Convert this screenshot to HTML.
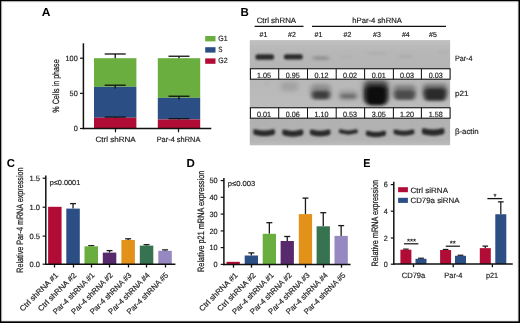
<!DOCTYPE html>
<html><head><meta charset="utf-8"><title>Figure</title>
<style>
html,body{margin:0;padding:0;background:#fff;}
body{width:520px;height:323px;overflow:hidden;position:relative;font-family:"Liberation Sans",sans-serif;}
svg{position:absolute;left:0;top:0;will-change:transform;}
svg text{font-family:"Liberation Sans",sans-serif;text-rendering:geometricPrecision;}
</style></head><body>
<svg width="520" height="323" viewBox="0 0 520 323">
<text x="41.7" y="16.3" font-size="11.5" text-anchor="start" font-weight="bold" fill="#000" textLength="8.7" lengthAdjust="spacingAndGlyphs" >A</text>
<text x="240.4" y="16.3" font-size="11.5" text-anchor="start" font-weight="bold" fill="#000" >B</text>
<text x="6.7" y="167.35" font-size="11.5" text-anchor="start" font-weight="bold" fill="#000" textLength="8.2" lengthAdjust="spacingAndGlyphs" >C</text>
<text x="186.5" y="167.35" font-size="11.5" text-anchor="start" font-weight="bold" fill="#000" >D</text>
<text x="363.2" y="167.35" font-size="11.5" text-anchor="start" font-weight="bold" fill="#000" textLength="7.2" lengthAdjust="spacingAndGlyphs" >E</text>
<rect x="94.00" y="58.20" width="42.40" height="28.61" fill="#69ae3f" />
<rect x="94.00" y="86.81" width="42.40" height="30.93" fill="#2b4e85" />
<rect x="94.00" y="117.74" width="42.40" height="10.76" fill="#b10c35" />
<line x1="115.2" y1="58.2" x2="115.2" y2="53.982" stroke="#111" stroke-width="1.3"/>
<line x1="104.7" y1="53.982" x2="125.7" y2="53.982" stroke="#111" stroke-width="1.3"/>
<line x1="115.2" y1="88.4121" x2="115.2" y2="85.1952" stroke="#111" stroke-width="1.3"/>
<line x1="104.7" y1="85.1952" x2="125.7" y2="85.1952" stroke="#111" stroke-width="1.3"/>
<line x1="115.2" y1="117.7441" x2="115.2" y2="117.0411" stroke="#111" stroke-width="1.2"/>
<line x1="104.7" y1="117.0411" x2="125.7" y2="117.0411" stroke="#111" stroke-width="1.2"/>
<rect x="157.80" y="58.20" width="42.40" height="39.65" fill="#69ae3f" />
<rect x="157.80" y="97.85" width="42.40" height="21.58" fill="#2b4e85" />
<rect x="157.80" y="119.43" width="42.40" height="9.07" fill="#b10c35" />
<line x1="179.0" y1="58.2" x2="179.0" y2="56.2316" stroke="#111" stroke-width="1.3"/>
<line x1="168.5" y1="56.2316" x2="189.5" y2="56.2316" stroke="#111" stroke-width="1.3"/>
<line x1="179.0" y1="99.44919999999999" x2="179.0" y2="96.23230000000001" stroke="#111" stroke-width="1.3"/>
<line x1="168.5" y1="96.23230000000001" x2="189.5" y2="96.23230000000001" stroke="#111" stroke-width="1.3"/>
<line x1="179.0" y1="119.4313" x2="179.0" y2="118.658" stroke="#111" stroke-width="1.2"/>
<line x1="168.5" y1="118.658" x2="189.5" y2="118.658" stroke="#111" stroke-width="1.2"/>
<line x1="83.4" y1="43.3" x2="83.4" y2="129.2" stroke="#111" stroke-width="1.5"/>
<line x1="82.7" y1="128.5" x2="211.3" y2="128.5" stroke="#111" stroke-width="1.5"/>
<line x1="115.5" y1="128.5" x2="115.5" y2="132.3" stroke="#111" stroke-width="1.2"/>
<line x1="178.5" y1="128.5" x2="178.5" y2="132.3" stroke="#111" stroke-width="1.2"/>
<line x1="80" y1="128.5" x2="83.4" y2="128.5" stroke="#111" stroke-width="1.2"/>
<text x="77.8" y="131.2" font-size="7.7" text-anchor="end" font-weight="normal" fill="#222" textLength="4.1" lengthAdjust="spacingAndGlyphs"  stroke="#222" stroke-width="0.18">0</text>
<line x1="80" y1="93.35" x2="83.4" y2="93.35" stroke="#111" stroke-width="1.2"/>
<text x="77.8" y="96.05" font-size="7.7" text-anchor="end" font-weight="normal" fill="#222" textLength="8.2" lengthAdjust="spacingAndGlyphs"  stroke="#222" stroke-width="0.18">50</text>
<line x1="80" y1="58.2" x2="83.4" y2="58.2" stroke="#111" stroke-width="1.2"/>
<text x="77.8" y="60.900000000000006" font-size="7.7" text-anchor="end" font-weight="normal" fill="#222" textLength="12.299999999999999" lengthAdjust="spacingAndGlyphs"  stroke="#222" stroke-width="0.18">100</text>
<text x="59.0" y="86.0" font-size="9.2" text-anchor="middle" font-weight="normal" fill="#222" textLength="53.3" lengthAdjust="spacingAndGlyphs" transform="rotate(-90 59.0 86.0)" stroke="#222" stroke-width="0.25">% Cells in phase</text>
<text x="115.6" y="141.6" font-size="7.7" text-anchor="middle" font-weight="normal" fill="#222" textLength="40.3" lengthAdjust="spacingAndGlyphs"  stroke="#222" stroke-width="0.18">Ctrl shRNA</text>
<text x="178.5" y="141.6" font-size="7.7" text-anchor="middle" font-weight="normal" fill="#222" textLength="43.7" lengthAdjust="spacingAndGlyphs"  stroke="#222" stroke-width="0.18">Par-4 shRNA</text>
<rect x="205.20" y="36.00" width="10.30" height="5.40" fill="#69ae3f" />
<text x="218.3" y="41.0" font-size="7.7" text-anchor="start" font-weight="normal" fill="#222" textLength="9.3" lengthAdjust="spacingAndGlyphs"  stroke="#222" stroke-width="0.18">G1</text>
<rect x="205.20" y="47.20" width="10.30" height="5.40" fill="#2b4e85" />
<text x="218.3" y="52.2" font-size="7.7" text-anchor="start" font-weight="normal" fill="#222" textLength="4.2" lengthAdjust="spacingAndGlyphs"  stroke="#222" stroke-width="0.18">S</text>
<rect x="205.20" y="58.40" width="10.30" height="5.40" fill="#b10c35" />
<text x="218.3" y="63.4" font-size="7.7" text-anchor="start" font-weight="normal" fill="#222" textLength="9.3" lengthAdjust="spacingAndGlyphs"  stroke="#222" stroke-width="0.18">G2</text>
<defs>
<filter id="b1" x="-30%" y="-80%" width="160%" height="260%"><feGaussianBlur stdDeviation="1.0 0.8"/></filter>
<filter id="b2" x="-40%" y="-80%" width="180%" height="260%"><feGaussianBlur stdDeviation="2.1 1.7"/></filter>
<filter id="b3" x="-50%" y="-100%" width="200%" height="300%"><feGaussianBlur stdDeviation="2.6 2.2"/></filter>
<linearGradient id="g1" x1="0" y1="0" x2="0" y2="1"><stop offset="0" stop-color="#c0c0c0"/><stop offset="0.35" stop-color="#b7b7b7"/><stop offset="1" stop-color="#b5b5b5"/></linearGradient>
<linearGradient id="g2" x1="0" y1="0" x2="0" y2="1"><stop offset="0" stop-color="#b8b8b8"/><stop offset="1" stop-color="#bcbcbc"/></linearGradient>
<linearGradient id="g3" x1="0" y1="0" x2="0" y2="1"><stop offset="0" stop-color="#b1b1b1"/><stop offset="0.8" stop-color="#b3b3b3"/><stop offset="1" stop-color="#bdbdbd"/></linearGradient>
<clipPath id="cb"><rect x="249.8" y="40.1" width="200.3" height="105.2"/></clipPath>
</defs>
<rect x="249.80" y="40.10" width="200.30" height="30.00" fill="url(#g1)" />
<rect x="249.80" y="79.00" width="200.30" height="30.00" fill="url(#g2)" />
<rect x="249.80" y="117.50" width="200.30" height="27.80" fill="url(#g3)" />
<g clip-path="url(#cb)">
<rect x="255.4" y="54.2" width="18.60" height="5.60" rx="2.5" fill="#2b2b2b" filter="url(#b1)"/>
<rect x="283.8" y="54.2" width="19.00" height="5.40" rx="2.5" fill="#2b2b2b" filter="url(#b1)"/>
<rect x="312.5" y="56.3" width="16.50" height="3.70" rx="2.5" fill="#909090" filter="url(#b2)"/>
<rect x="368" y="52.5" width="18.00" height="2.00" rx="1" fill="#aaaaaa" filter="url(#b2)"/>
<rect x="399" y="55.5" width="13.00" height="2.00" rx="1" fill="#a6a6a6" filter="url(#b2)"/>
<rect x="440" y="51" width="6.00" height="2.00" rx="1" fill="#aaaaaa" filter="url(#b2)"/>
<rect x="341" y="56" width="11.00" height="2.00" rx="1" fill="#adadad" filter="url(#b2)"/>
<rect x="281" y="82" width="17.00" height="9.00" rx="3" fill="#a2a2a2" filter="url(#b3)"/>
<rect x="265" y="82.5" width="3.00" height="2.50" rx="1" fill="#a4a4a4" filter="url(#b2)"/>
<rect x="311" y="84.5" width="19.50" height="12.50" rx="3" fill="#8a8a8a" filter="url(#b3)"/>
<rect x="312.2" y="91.0" width="17.40" height="8.20" rx="3" fill="#3e3e3e" filter="url(#b2)"/>
<rect x="339" y="90" width="18.50" height="10.00" rx="3" fill="#9c9c9c" filter="url(#b3)"/>
<rect x="340.5" y="94" width="15.50" height="4.40" rx="2" fill="#6c6c6c" filter="url(#b2)"/>
<rect x="363.5" y="80.5" width="25.00" height="21.50" rx="5" fill="#4a4a4a" filter="url(#b3)"/>
<rect x="365.5" y="86" width="21.30" height="19.20" rx="5" fill="#0c0c0c" filter="url(#b2)"/>
<rect x="393.5" y="85" width="22.00" height="12.00" rx="3" fill="#7c7c7c" filter="url(#b3)"/>
<rect x="394.6" y="90.5" width="20.00" height="9.30" rx="3" fill="#4c4c4c" filter="url(#b2)"/>
<rect x="423" y="84" width="24.00" height="12.00" rx="3" fill="#6e6e6e" filter="url(#b3)"/>
<rect x="424.2" y="88.5" width="21.80" height="12.30" rx="4" fill="#2a2a2a" filter="url(#b2)"/>
<path d="M253.3,130.40 Q253.3,129.10 255.8,129.20 Q264.15,131.80 272.5,129.20 Q275,129.10 275,130.40 L275,133.10 Q275,135.00 272,135.30 Q264.15,137.40 256.3,135.30 Q253.3,135.00 253.3,133.10 Z" fill="#2a2a2a" filter="url(#b1)"/>
<path d="M282.3,130.80 Q282.3,129.50 284.8,129.60 Q292.8,132.20 300.8,129.60 Q303.3,129.50 303.3,130.80 L303.3,133.60 Q303.3,135.50 300.3,135.80 Q292.8,137.90 285.3,135.80 Q282.3,135.50 282.3,133.60 Z" fill="#2a2a2a" filter="url(#b1)"/>
<path d="M309.9,130.60 Q309.9,129.30 312.4,129.40 Q320.2,132.00 328.0,129.40 Q330.5,129.30 330.5,130.60 L330.5,133.20 Q330.5,135.10 327.5,135.40 Q320.2,137.50 312.9,135.40 Q309.9,135.10 309.9,133.20 Z" fill="#2a2a2a" filter="url(#b1)"/>
<path d="M338.8,130.40 Q338.8,129.10 341.3,129.20 Q348.3,131.80 355.3,129.20 Q357.8,129.10 357.8,130.40 L357.8,131.40 Q357.8,133.30 354.8,133.60 Q348.3,135.70 341.8,133.60 Q338.8,133.30 338.8,131.40 Z" fill="#2a2a2a" filter="url(#b1)"/>
<path d="M365.8,132.00 Q365.8,130.70 368.3,130.80 Q375.9,133.40 383.5,130.80 Q386,130.70 386,132.00 L386,134.00 Q386,135.90 383,136.20 Q375.9,138.30 368.8,136.20 Q365.8,135.90 365.8,134.00 Z" fill="#2a2a2a" filter="url(#b1)"/>
<path d="M393.5,130.60 Q393.5,129.30 396.0,129.40 Q403.95,132.00 411.9,129.40 Q414.4,129.30 414.4,130.60 L414.4,132.50 Q414.4,134.40 411.4,134.70 Q403.95,136.80 396.5,134.70 Q393.5,134.40 393.5,132.50 Z" fill="#2a2a2a" filter="url(#b1)"/>
<path d="M421.9,129.40 Q421.9,128.10 424.4,128.20 Q433.15,130.80 441.9,128.20 Q444.4,128.10 444.4,129.40 L444.4,132.50 Q444.4,134.40 441.4,134.70 Q433.15,136.80 424.9,134.70 Q421.9,134.40 421.9,132.50 Z" fill="#2a2a2a" filter="url(#b1)"/>
</g>
<rect x="250.4" y="68.75" width="199.70" height="10.45" fill="#fff" stroke="#151515" stroke-width="1.1"/>
<line x1="278.7" y1="68.75" x2="278.7" y2="79.2" stroke="#151515" stroke-width="1.05"/>
<line x1="307.5" y1="68.75" x2="307.5" y2="79.2" stroke="#151515" stroke-width="1.05"/>
<line x1="336.2" y1="68.75" x2="336.2" y2="79.2" stroke="#151515" stroke-width="1.05"/>
<line x1="364.6" y1="68.75" x2="364.6" y2="79.2" stroke="#151515" stroke-width="1.05"/>
<line x1="393.4" y1="68.75" x2="393.4" y2="79.2" stroke="#151515" stroke-width="1.05"/>
<line x1="421.4" y1="68.75" x2="421.4" y2="79.2" stroke="#151515" stroke-width="1.05"/>
<text x="264.0" y="77.55" font-size="7.6" text-anchor="middle" font-weight="normal" fill="#222" textLength="14.0" lengthAdjust="spacingAndGlyphs"  stroke="#222" stroke-width="0.18">1.05</text>
<text x="292.8" y="77.55" font-size="7.6" text-anchor="middle" font-weight="normal" fill="#222" textLength="14.0" lengthAdjust="spacingAndGlyphs"  stroke="#222" stroke-width="0.18">0.95</text>
<text x="321.55" y="77.55" font-size="7.6" text-anchor="middle" font-weight="normal" fill="#222" textLength="14.0" lengthAdjust="spacingAndGlyphs"  stroke="#222" stroke-width="0.18">0.12</text>
<text x="350.09999999999997" y="77.55" font-size="7.6" text-anchor="middle" font-weight="normal" fill="#222" textLength="14.0" lengthAdjust="spacingAndGlyphs"  stroke="#222" stroke-width="0.18">0.02</text>
<text x="378.7" y="77.55" font-size="7.6" text-anchor="middle" font-weight="normal" fill="#222" textLength="14.0" lengthAdjust="spacingAndGlyphs"  stroke="#222" stroke-width="0.18">0.01</text>
<text x="407.09999999999997" y="77.55" font-size="7.6" text-anchor="middle" font-weight="normal" fill="#222" textLength="14.0" lengthAdjust="spacingAndGlyphs"  stroke="#222" stroke-width="0.18">0.03</text>
<text x="435.7" y="77.55" font-size="7.6" text-anchor="middle" font-weight="normal" fill="#222" textLength="14.0" lengthAdjust="spacingAndGlyphs"  stroke="#222" stroke-width="0.18">0.03</text>
<rect x="250.4" y="107.75" width="199.70" height="10.45" fill="#fff" stroke="#151515" stroke-width="1.1"/>
<line x1="278.7" y1="107.75" x2="278.7" y2="118.2" stroke="#151515" stroke-width="1.05"/>
<line x1="307.5" y1="107.75" x2="307.5" y2="118.2" stroke="#151515" stroke-width="1.05"/>
<line x1="336.2" y1="107.75" x2="336.2" y2="118.2" stroke="#151515" stroke-width="1.05"/>
<line x1="364.6" y1="107.75" x2="364.6" y2="118.2" stroke="#151515" stroke-width="1.05"/>
<line x1="393.4" y1="107.75" x2="393.4" y2="118.2" stroke="#151515" stroke-width="1.05"/>
<line x1="421.4" y1="107.75" x2="421.4" y2="118.2" stroke="#151515" stroke-width="1.05"/>
<text x="264.0" y="116.55" font-size="7.6" text-anchor="middle" font-weight="normal" fill="#222" textLength="14.0" lengthAdjust="spacingAndGlyphs"  stroke="#222" stroke-width="0.18">0.01</text>
<text x="292.8" y="116.55" font-size="7.6" text-anchor="middle" font-weight="normal" fill="#222" textLength="14.0" lengthAdjust="spacingAndGlyphs"  stroke="#222" stroke-width="0.18">0.06</text>
<text x="321.55" y="116.55" font-size="7.6" text-anchor="middle" font-weight="normal" fill="#222" textLength="14.0" lengthAdjust="spacingAndGlyphs"  stroke="#222" stroke-width="0.18">1.10</text>
<text x="350.09999999999997" y="116.55" font-size="7.6" text-anchor="middle" font-weight="normal" fill="#222" textLength="14.0" lengthAdjust="spacingAndGlyphs"  stroke="#222" stroke-width="0.18">0.53</text>
<text x="378.7" y="116.55" font-size="7.6" text-anchor="middle" font-weight="normal" fill="#222" textLength="14.0" lengthAdjust="spacingAndGlyphs"  stroke="#222" stroke-width="0.18">3.05</text>
<text x="407.09999999999997" y="116.55" font-size="7.6" text-anchor="middle" font-weight="normal" fill="#222" textLength="14.0" lengthAdjust="spacingAndGlyphs"  stroke="#222" stroke-width="0.18">1.20</text>
<text x="435.7" y="116.55" font-size="7.6" text-anchor="middle" font-weight="normal" fill="#222" textLength="14.0" lengthAdjust="spacingAndGlyphs"  stroke="#222" stroke-width="0.18">1.58</text>
<text x="276.4" y="22.6" font-size="7.7" text-anchor="middle" font-weight="normal" fill="#222" textLength="39.5" lengthAdjust="spacingAndGlyphs"  stroke="#222" stroke-width="0.18">Ctrl shRNA</text>
<text x="377.1" y="22.6" font-size="7.7" text-anchor="middle" font-weight="normal" fill="#222" textLength="49.6" lengthAdjust="spacingAndGlyphs"  stroke="#222" stroke-width="0.18">hPar-4 shRNA</text>
<line x1="254.6" y1="26.4" x2="303.5" y2="26.4" stroke="#111" stroke-width="1.1"/>
<line x1="312" y1="26.4" x2="446" y2="26.4" stroke="#111" stroke-width="1.1"/>
<text x="263.5" y="37.1" font-size="7.3" text-anchor="middle" font-weight="normal" fill="#222" textLength="7.8" lengthAdjust="spacingAndGlyphs"  stroke="#222" stroke-width="0.18">#1</text>
<text x="292" y="37.1" font-size="7.3" text-anchor="middle" font-weight="normal" fill="#222" textLength="7.8" lengthAdjust="spacingAndGlyphs"  stroke="#222" stroke-width="0.18">#2</text>
<text x="318.5" y="37.1" font-size="7.3" text-anchor="middle" font-weight="normal" fill="#222" textLength="7.8" lengthAdjust="spacingAndGlyphs"  stroke="#222" stroke-width="0.18">#1</text>
<text x="347.4" y="37.1" font-size="7.3" text-anchor="middle" font-weight="normal" fill="#222" textLength="7.8" lengthAdjust="spacingAndGlyphs"  stroke="#222" stroke-width="0.18">#2</text>
<text x="377" y="37.1" font-size="7.3" text-anchor="middle" font-weight="normal" fill="#222" textLength="7.8" lengthAdjust="spacingAndGlyphs"  stroke="#222" stroke-width="0.18">#3</text>
<text x="405.8" y="37.1" font-size="7.3" text-anchor="middle" font-weight="normal" fill="#222" textLength="7.8" lengthAdjust="spacingAndGlyphs"  stroke="#222" stroke-width="0.18">#4</text>
<text x="432.9" y="37.1" font-size="7.3" text-anchor="middle" font-weight="normal" fill="#222" textLength="7.8" lengthAdjust="spacingAndGlyphs"  stroke="#222" stroke-width="0.18">#5</text>
<text x="454.9" y="61" font-size="7.7" text-anchor="start" font-weight="normal" fill="#222" textLength="17.6" lengthAdjust="spacingAndGlyphs"  stroke="#222" stroke-width="0.18">Par-4</text>
<text x="454.9" y="96.1" font-size="7.7" text-anchor="start" font-weight="normal" fill="#222" textLength="13.6" lengthAdjust="spacingAndGlyphs"  stroke="#222" stroke-width="0.18">p21</text>
<text x="454.9" y="134.2" font-size="7.7" text-anchor="start" font-weight="normal" fill="#222" textLength="23.8" lengthAdjust="spacingAndGlyphs"  stroke="#222" stroke-width="0.18">β-actin</text>
<rect x="48.10" y="206.80" width="13.50" height="57.40" fill="#b10c35" />
<line x1="73.05" y1="208.6" x2="73.05" y2="203.6" stroke="#1a1a1a" stroke-width="1.3"/>
<line x1="70.05" y1="203.6" x2="76.05" y2="203.6" stroke="#1a1a1a" stroke-width="1.3"/>
<rect x="66.30" y="208.60" width="13.50" height="55.60" fill="#2b4e85" />
<line x1="91.25" y1="246.3" x2="91.25" y2="245.7" stroke="#1a1a1a" stroke-width="1.3"/>
<line x1="88.25" y1="245.7" x2="94.25" y2="245.7" stroke="#1a1a1a" stroke-width="1.3"/>
<rect x="84.50" y="246.30" width="13.50" height="17.90" fill="#69ae3f" />
<line x1="109.55" y1="252.6" x2="109.55" y2="250.6" stroke="#1a1a1a" stroke-width="1.3"/>
<line x1="106.55" y1="250.6" x2="112.55" y2="250.6" stroke="#1a1a1a" stroke-width="1.3"/>
<rect x="102.80" y="252.60" width="13.50" height="11.60" fill="#58296c" />
<line x1="128.15" y1="240.0" x2="128.15" y2="238.8" stroke="#1a1a1a" stroke-width="1.3"/>
<line x1="125.15" y1="238.8" x2="131.15" y2="238.8" stroke="#1a1a1a" stroke-width="1.3"/>
<rect x="121.40" y="240.00" width="13.50" height="24.20" fill="#e29119" />
<line x1="146.55" y1="245.6" x2="146.55" y2="244.7" stroke="#1a1a1a" stroke-width="1.3"/>
<line x1="143.55" y1="244.7" x2="149.55" y2="244.7" stroke="#1a1a1a" stroke-width="1.3"/>
<rect x="139.80" y="245.60" width="13.50" height="18.60" fill="#387351" />
<line x1="165.05" y1="250.8" x2="165.05" y2="249.9" stroke="#1a1a1a" stroke-width="1.3"/>
<line x1="162.05" y1="249.9" x2="168.05" y2="249.9" stroke="#1a1a1a" stroke-width="1.3"/>
<rect x="158.30" y="250.80" width="13.50" height="13.40" fill="#9688c1" />
<line x1="45.8" y1="175.4" x2="45.8" y2="264.95" stroke="#111" stroke-width="1.5"/>
<line x1="45.05" y1="264.2" x2="175.4" y2="264.2" stroke="#111" stroke-width="1.5"/>
<line x1="54.5" y1="264.2" x2="54.5" y2="267.5" stroke="#111" stroke-width="1.3"/>
<line x1="73.5" y1="264.2" x2="73.5" y2="267.5" stroke="#111" stroke-width="1.3"/>
<line x1="91.5" y1="264.2" x2="91.5" y2="267.5" stroke="#111" stroke-width="1.3"/>
<line x1="109.5" y1="264.2" x2="109.5" y2="267.5" stroke="#111" stroke-width="1.3"/>
<line x1="128.5" y1="264.2" x2="128.5" y2="267.5" stroke="#111" stroke-width="1.3"/>
<line x1="146.5" y1="264.2" x2="146.5" y2="267.5" stroke="#111" stroke-width="1.3"/>
<line x1="165.5" y1="264.2" x2="165.5" y2="267.5" stroke="#111" stroke-width="1.3"/>
<line x1="42.599999999999994" y1="264.2" x2="45.8" y2="264.2" stroke="#111" stroke-width="1.2"/>
<text x="40.0" y="266.8" font-size="7.7" text-anchor="end" font-weight="normal" fill="#222" textLength="10.499999999999998" lengthAdjust="spacingAndGlyphs"  stroke="#222" stroke-width="0.18">0.0</text>
<line x1="42.599999999999994" y1="236.1" x2="45.8" y2="236.1" stroke="#111" stroke-width="1.2"/>
<text x="40.0" y="238.7" font-size="7.7" text-anchor="end" font-weight="normal" fill="#222" textLength="10.499999999999998" lengthAdjust="spacingAndGlyphs"  stroke="#222" stroke-width="0.18">0.5</text>
<line x1="42.599999999999994" y1="207.2" x2="45.8" y2="207.2" stroke="#111" stroke-width="1.2"/>
<text x="40.0" y="209.79999999999998" font-size="7.7" text-anchor="end" font-weight="normal" fill="#222" textLength="10.499999999999998" lengthAdjust="spacingAndGlyphs"  stroke="#222" stroke-width="0.18">1.0</text>
<line x1="42.599999999999994" y1="178.2" x2="45.8" y2="178.2" stroke="#111" stroke-width="1.2"/>
<text x="40.0" y="180.79999999999998" font-size="7.7" text-anchor="end" font-weight="normal" fill="#222" textLength="10.499999999999998" lengthAdjust="spacingAndGlyphs"  stroke="#222" stroke-width="0.18">1.5</text>
<text x="23.1" y="220.1" font-size="9.2" text-anchor="middle" font-weight="normal" fill="#222" textLength="105.2" lengthAdjust="spacingAndGlyphs" transform="rotate(-90 23.1 220.1)" stroke="#222" stroke-width="0.25">Relative Par-4 mRNA expression</text>
<text x="49.7" y="185.1" font-size="7.3" text-anchor="start" font-weight="normal" fill="#222" textLength="30.6" lengthAdjust="spacingAndGlyphs"  stroke="#222" stroke-width="0.18">p≤0.0001</text>
<text x="58.65" y="275.8" font-size="7.7" text-anchor="end" font-weight="normal" fill="#222" textLength="50.8" lengthAdjust="spacingAndGlyphs" transform="rotate(-45 58.65 275.8)"  stroke="#222" stroke-width="0.18">Ctrl shRNA #1</text>
<text x="76.85" y="275.8" font-size="7.7" text-anchor="end" font-weight="normal" fill="#222" textLength="50.8" lengthAdjust="spacingAndGlyphs" transform="rotate(-45 76.85 275.8)"  stroke="#222" stroke-width="0.18">Ctrl shRNA #2</text>
<text x="95.05" y="275.8" font-size="7.7" text-anchor="end" font-weight="normal" fill="#222" textLength="55.2" lengthAdjust="spacingAndGlyphs" transform="rotate(-45 95.05 275.8)"  stroke="#222" stroke-width="0.18">Par-4 shRNA #1</text>
<text x="113.35" y="275.8" font-size="7.7" text-anchor="end" font-weight="normal" fill="#222" textLength="55.2" lengthAdjust="spacingAndGlyphs" transform="rotate(-45 113.35 275.8)"  stroke="#222" stroke-width="0.18">Par-4 shRNA #2</text>
<text x="131.95000000000002" y="275.8" font-size="7.7" text-anchor="end" font-weight="normal" fill="#222" textLength="55.2" lengthAdjust="spacingAndGlyphs" transform="rotate(-45 131.95000000000002 275.8)"  stroke="#222" stroke-width="0.18">Par-4 shRNA #3</text>
<text x="150.35000000000002" y="275.8" font-size="7.7" text-anchor="end" font-weight="normal" fill="#222" textLength="55.2" lengthAdjust="spacingAndGlyphs" transform="rotate(-45 150.35000000000002 275.8)"  stroke="#222" stroke-width="0.18">Par-4 shRNA #4</text>
<text x="168.85000000000002" y="275.8" font-size="7.7" text-anchor="end" font-weight="normal" fill="#222" textLength="55.2" lengthAdjust="spacingAndGlyphs" transform="rotate(-45 168.85000000000002 275.8)"  stroke="#222" stroke-width="0.18">Par-4 shRNA #5</text>
<rect x="226.50" y="261.80" width="13.30" height="2.60" fill="#b10c35" />
<line x1="251.35" y1="255.5" x2="251.35" y2="252.9" stroke="#1a1a1a" stroke-width="1.3"/>
<line x1="248.35" y1="252.9" x2="254.35" y2="252.9" stroke="#1a1a1a" stroke-width="1.3"/>
<rect x="244.70" y="255.50" width="13.30" height="8.90" fill="#2b4e85" />
<line x1="269.34999999999997" y1="233.8" x2="269.34999999999997" y2="222.7" stroke="#1a1a1a" stroke-width="1.3"/>
<line x1="266.34999999999997" y1="222.7" x2="272.34999999999997" y2="222.7" stroke="#1a1a1a" stroke-width="1.3"/>
<rect x="262.70" y="233.80" width="13.30" height="30.60" fill="#69ae3f" />
<line x1="287.25" y1="241.0" x2="287.25" y2="236.5" stroke="#1a1a1a" stroke-width="1.3"/>
<line x1="284.25" y1="236.5" x2="290.25" y2="236.5" stroke="#1a1a1a" stroke-width="1.3"/>
<rect x="280.60" y="241.00" width="13.30" height="23.40" fill="#58296c" />
<line x1="305.45" y1="214.1" x2="305.45" y2="198.1" stroke="#1a1a1a" stroke-width="1.3"/>
<line x1="302.45" y1="198.1" x2="308.45" y2="198.1" stroke="#1a1a1a" stroke-width="1.3"/>
<rect x="298.80" y="214.10" width="13.30" height="50.30" fill="#e29119" />
<line x1="323.25" y1="226.3" x2="323.25" y2="212.7" stroke="#1a1a1a" stroke-width="1.3"/>
<line x1="320.25" y1="212.7" x2="326.25" y2="212.7" stroke="#1a1a1a" stroke-width="1.3"/>
<rect x="316.60" y="226.30" width="13.30" height="38.10" fill="#387351" />
<line x1="341.15" y1="235.9" x2="341.15" y2="225.6" stroke="#1a1a1a" stroke-width="1.3"/>
<line x1="338.15" y1="225.6" x2="344.15" y2="225.6" stroke="#1a1a1a" stroke-width="1.3"/>
<rect x="334.50" y="235.90" width="13.30" height="28.50" fill="#9688c1" />
<line x1="223.9" y1="178" x2="223.9" y2="265.15" stroke="#111" stroke-width="1.5"/>
<line x1="223.15" y1="264.4" x2="350.6" y2="264.4" stroke="#111" stroke-width="1.5"/>
<line x1="233.5" y1="264.4" x2="233.5" y2="267.7" stroke="#111" stroke-width="1.3"/>
<line x1="251.5" y1="264.4" x2="251.5" y2="267.7" stroke="#111" stroke-width="1.3"/>
<line x1="269.5" y1="264.4" x2="269.5" y2="267.7" stroke="#111" stroke-width="1.3"/>
<line x1="287.5" y1="264.4" x2="287.5" y2="267.7" stroke="#111" stroke-width="1.3"/>
<line x1="305.5" y1="264.4" x2="305.5" y2="267.7" stroke="#111" stroke-width="1.3"/>
<line x1="323.5" y1="264.4" x2="323.5" y2="267.7" stroke="#111" stroke-width="1.3"/>
<line x1="341.5" y1="264.4" x2="341.5" y2="267.7" stroke="#111" stroke-width="1.3"/>
<line x1="220.70000000000002" y1="264.4" x2="223.9" y2="264.4" stroke="#111" stroke-width="1.2"/>
<text x="217.7" y="267.0" font-size="7.7" text-anchor="end" font-weight="normal" fill="#222" textLength="4.1" lengthAdjust="spacingAndGlyphs"  stroke="#222" stroke-width="0.18">0</text>
<line x1="220.70000000000002" y1="247.6" x2="223.9" y2="247.6" stroke="#111" stroke-width="1.2"/>
<text x="217.7" y="250.2" font-size="7.7" text-anchor="end" font-weight="normal" fill="#222" textLength="8.2" lengthAdjust="spacingAndGlyphs"  stroke="#222" stroke-width="0.18">10</text>
<line x1="220.70000000000002" y1="230.9" x2="223.9" y2="230.9" stroke="#111" stroke-width="1.2"/>
<text x="217.7" y="233.5" font-size="7.7" text-anchor="end" font-weight="normal" fill="#222" textLength="8.2" lengthAdjust="spacingAndGlyphs"  stroke="#222" stroke-width="0.18">20</text>
<line x1="220.70000000000002" y1="214.1" x2="223.9" y2="214.1" stroke="#111" stroke-width="1.2"/>
<text x="217.7" y="216.7" font-size="7.7" text-anchor="end" font-weight="normal" fill="#222" textLength="8.2" lengthAdjust="spacingAndGlyphs"  stroke="#222" stroke-width="0.18">30</text>
<line x1="220.70000000000002" y1="197.3" x2="223.9" y2="197.3" stroke="#111" stroke-width="1.2"/>
<text x="217.7" y="199.9" font-size="7.7" text-anchor="end" font-weight="normal" fill="#222" textLength="8.2" lengthAdjust="spacingAndGlyphs"  stroke="#222" stroke-width="0.18">40</text>
<line x1="220.70000000000002" y1="180.6" x2="223.9" y2="180.6" stroke="#111" stroke-width="1.2"/>
<text x="217.7" y="183.2" font-size="7.7" text-anchor="end" font-weight="normal" fill="#222" textLength="8.2" lengthAdjust="spacingAndGlyphs"  stroke="#222" stroke-width="0.18">50</text>
<text x="203.8" y="221.3" font-size="9.2" text-anchor="middle" font-weight="normal" fill="#222" textLength="101.2" lengthAdjust="spacingAndGlyphs" transform="rotate(-90 203.8 221.3)" stroke="#222" stroke-width="0.25">Relative p21 mRNA expression</text>
<text x="227.7" y="185.5" font-size="7.3" text-anchor="start" font-weight="normal" fill="#222" textLength="27.6" lengthAdjust="spacingAndGlyphs"  stroke="#222" stroke-width="0.18">p≤0.003</text>
<text x="238.05" y="275.79999999999995" font-size="7.7" text-anchor="end" font-weight="normal" fill="#222" textLength="50.8" lengthAdjust="spacingAndGlyphs" transform="rotate(-45 238.05 275.79999999999995)"  stroke="#222" stroke-width="0.18">Ctrl shRNA #1</text>
<text x="256.25" y="275.79999999999995" font-size="7.7" text-anchor="end" font-weight="normal" fill="#222" textLength="50.8" lengthAdjust="spacingAndGlyphs" transform="rotate(-45 256.25 275.79999999999995)"  stroke="#222" stroke-width="0.18">Ctrl shRNA #2</text>
<text x="274.24999999999994" y="275.79999999999995" font-size="7.7" text-anchor="end" font-weight="normal" fill="#222" textLength="55.2" lengthAdjust="spacingAndGlyphs" transform="rotate(-45 274.24999999999994 275.79999999999995)"  stroke="#222" stroke-width="0.18">Par-4 shRNA #1</text>
<text x="292.15" y="275.79999999999995" font-size="7.7" text-anchor="end" font-weight="normal" fill="#222" textLength="55.2" lengthAdjust="spacingAndGlyphs" transform="rotate(-45 292.15 275.79999999999995)"  stroke="#222" stroke-width="0.18">Par-4 shRNA #2</text>
<text x="310.34999999999997" y="275.79999999999995" font-size="7.7" text-anchor="end" font-weight="normal" fill="#222" textLength="55.2" lengthAdjust="spacingAndGlyphs" transform="rotate(-45 310.34999999999997 275.79999999999995)"  stroke="#222" stroke-width="0.18">Par-4 shRNA #3</text>
<text x="328.15" y="275.79999999999995" font-size="7.7" text-anchor="end" font-weight="normal" fill="#222" textLength="55.2" lengthAdjust="spacingAndGlyphs" transform="rotate(-45 328.15 275.79999999999995)"  stroke="#222" stroke-width="0.18">Par-4 shRNA #4</text>
<text x="346.04999999999995" y="275.79999999999995" font-size="7.7" text-anchor="end" font-weight="normal" fill="#222" textLength="55.2" lengthAdjust="spacingAndGlyphs" transform="rotate(-45 346.04999999999995 275.79999999999995)"  stroke="#222" stroke-width="0.18">Par-4 shRNA #5</text>
<line x1="405.9" y1="249.69610000000003" x2="405.9" y2="249.13750000000002" stroke="#1a1a1a" stroke-width="1.25"/>
<line x1="403.09999999999997" y1="249.13750000000002" x2="408.7" y2="249.13750000000002" stroke="#1a1a1a" stroke-width="1.25"/>
<line x1="421.0" y1="258.78000000000003" x2="421.0" y2="258.24800000000005" stroke="#1a1a1a" stroke-width="1.25"/>
<line x1="418.1" y1="258.24800000000005" x2="423.9" y2="258.24800000000005" stroke="#1a1a1a" stroke-width="1.25"/>
<rect x="400.40" y="249.70" width="11.00" height="14.40" fill="#b10c35" />
<rect x="415.50" y="258.78" width="11.00" height="5.32" fill="#2b4e85" />
<line x1="413.5" y1="264.1" x2="413.5" y2="267.20000000000005" stroke="#111" stroke-width="1.3"/>
<line x1="445.6" y1="250.002" x2="445.6" y2="249.47000000000003" stroke="#1a1a1a" stroke-width="1.25"/>
<line x1="442.8" y1="249.47000000000003" x2="448.40000000000003" y2="249.47000000000003" stroke="#1a1a1a" stroke-width="1.25"/>
<line x1="460.5" y1="255.8008" x2="460.5" y2="255.2555" stroke="#1a1a1a" stroke-width="1.25"/>
<line x1="457.6" y1="255.2555" x2="463.4" y2="255.2555" stroke="#1a1a1a" stroke-width="1.25"/>
<rect x="440.10" y="250.00" width="11.00" height="14.10" fill="#b10c35" />
<rect x="455.00" y="255.80" width="11.00" height="8.30" fill="#2b4e85" />
<line x1="453.2" y1="264.1" x2="453.2" y2="267.20000000000005" stroke="#111" stroke-width="1.3"/>
<line x1="485.3" y1="248.14000000000001" x2="485.3" y2="246.10510000000002" stroke="#1a1a1a" stroke-width="1.25"/>
<line x1="482.5" y1="246.10510000000002" x2="488.1" y2="246.10510000000002" stroke="#1a1a1a" stroke-width="1.25"/>
<line x1="500.8" y1="214.22500000000002" x2="500.8" y2="201.85600000000002" stroke="#1a1a1a" stroke-width="1.25"/>
<line x1="497.90000000000003" y1="201.85600000000002" x2="503.7" y2="201.85600000000002" stroke="#1a1a1a" stroke-width="1.25"/>
<rect x="479.80" y="248.14" width="11.00" height="15.96" fill="#b10c35" />
<rect x="495.30" y="214.23" width="11.00" height="49.88" fill="#2b4e85" />
<line x1="492.4" y1="264.1" x2="492.4" y2="267.20000000000005" stroke="#111" stroke-width="1.3"/>
<line x1="393.8" y1="181.7" x2="393.8" y2="264.85" stroke="#111" stroke-width="1.5"/>
<line x1="393.1" y1="264.1" x2="512.8" y2="264.1" stroke="#111" stroke-width="1.5"/>
<line x1="390.8" y1="264.2" x2="393.8" y2="264.2" stroke="#111" stroke-width="1.2"/>
<text x="387.7" y="266.9" font-size="7.7" text-anchor="end" font-weight="normal" fill="#222" textLength="4.0" lengthAdjust="spacingAndGlyphs"  stroke="#222" stroke-width="0.18">0</text>
<line x1="390.8" y1="238.0" x2="393.8" y2="238.0" stroke="#111" stroke-width="1.2"/>
<text x="387.7" y="240.7" font-size="7.7" text-anchor="end" font-weight="normal" fill="#222" textLength="4.0" lengthAdjust="spacingAndGlyphs"  stroke="#222" stroke-width="0.18">2</text>
<line x1="390.8" y1="211.2" x2="393.8" y2="211.2" stroke="#111" stroke-width="1.2"/>
<text x="387.7" y="213.89999999999998" font-size="7.7" text-anchor="end" font-weight="normal" fill="#222" textLength="4.0" lengthAdjust="spacingAndGlyphs"  stroke="#222" stroke-width="0.18">4</text>
<line x1="390.8" y1="184.6" x2="393.8" y2="184.6" stroke="#111" stroke-width="1.2"/>
<text x="387.7" y="187.29999999999998" font-size="7.7" text-anchor="end" font-weight="normal" fill="#222" textLength="4.0" lengthAdjust="spacingAndGlyphs"  stroke="#222" stroke-width="0.18">6</text>
<text x="378.2" y="223.2" font-size="9.2" text-anchor="middle" font-weight="normal" fill="#222" textLength="86.6" lengthAdjust="spacingAndGlyphs" transform="rotate(-90 378.2 223.2)" stroke="#222" stroke-width="0.25">Relative mRNA expression</text>
<rect x="398.10" y="187.20" width="9.80" height="5.00" fill="#b10c35" />
<text x="410.5" y="192.8" font-size="7.7" text-anchor="start" font-weight="normal" fill="#222" textLength="37.5" lengthAdjust="spacingAndGlyphs"  stroke="#222" stroke-width="0.18">Ctrl siRNA</text>
<rect x="398.10" y="197.80" width="9.80" height="5.10" fill="#2b4e85" />
<text x="410.5" y="203.2" font-size="7.7" text-anchor="start" font-weight="normal" fill="#222" textLength="49" lengthAdjust="spacingAndGlyphs"  stroke="#222" stroke-width="0.18">CD79a siRNA</text>
<line x1="403.9" y1="243.8" x2="418.4" y2="243.8" stroke="#111" stroke-width="1.2"/>
<text x="411.4" y="243.9" font-size="7.7" text-anchor="middle" font-weight="normal" fill="#222" textLength="9" lengthAdjust="spacingAndGlyphs"  stroke="#222" stroke-width="0.18">***</text>
<line x1="445.8" y1="246.2" x2="459.9" y2="246.2" stroke="#111" stroke-width="1.2"/>
<text x="452.8" y="246.2" font-size="7.7" text-anchor="middle" font-weight="normal" fill="#222" textLength="6" lengthAdjust="spacingAndGlyphs"  stroke="#222" stroke-width="0.18">**</text>
<line x1="487.4" y1="198.6" x2="502.2" y2="198.6" stroke="#111" stroke-width="1.3"/>
<text x="494.9" y="198.7" font-size="7.7" text-anchor="middle" font-weight="normal" fill="#222"  stroke="#222" stroke-width="0.18">*</text>
<text x="413.5" y="277.6" font-size="7.7" text-anchor="middle" font-weight="normal" fill="#222" textLength="23.7" lengthAdjust="spacingAndGlyphs"  stroke="#222" stroke-width="0.18">CD79a</text>
<text x="453.4" y="277.6" font-size="7.7" text-anchor="middle" font-weight="normal" fill="#222" textLength="18.2" lengthAdjust="spacingAndGlyphs"  stroke="#222" stroke-width="0.18">Par-4</text>
<text x="492" y="277.6" font-size="7.7" text-anchor="middle" font-weight="normal" fill="#222" textLength="12.2" lengthAdjust="spacingAndGlyphs"  stroke="#222" stroke-width="0.18">p21</text>
<rect x="0" y="0" width="520" height="1" fill="#000"/><rect x="0" y="0" width="1" height="323" fill="#000"/>
<rect x="519" y="0" width="1" height="323" fill="#000"/><rect x="518" y="0" width="1" height="323" fill="#000" opacity="0.55"/><rect x="517" y="0" width="1" height="323" fill="#000" opacity="0.05"/>
<rect x="0" y="322" width="520" height="1" fill="#000"/><rect x="0" y="321" width="520" height="1" fill="#000" opacity="0.68"/><rect x="0" y="320" width="520" height="1" fill="#000" opacity="0.06"/>
<rect x="1" y="1" width="1" height="322" fill="#000" opacity="0.33"/><rect x="1" y="1" width="518" height="1" fill="#000" opacity="0.3"/>
<rect x="2" y="2" width="1" height="320" fill="#000" opacity="0.04"/><rect x="2" y="2" width="516" height="1" fill="#000" opacity="0.04"/>
</svg>
</body></html>
